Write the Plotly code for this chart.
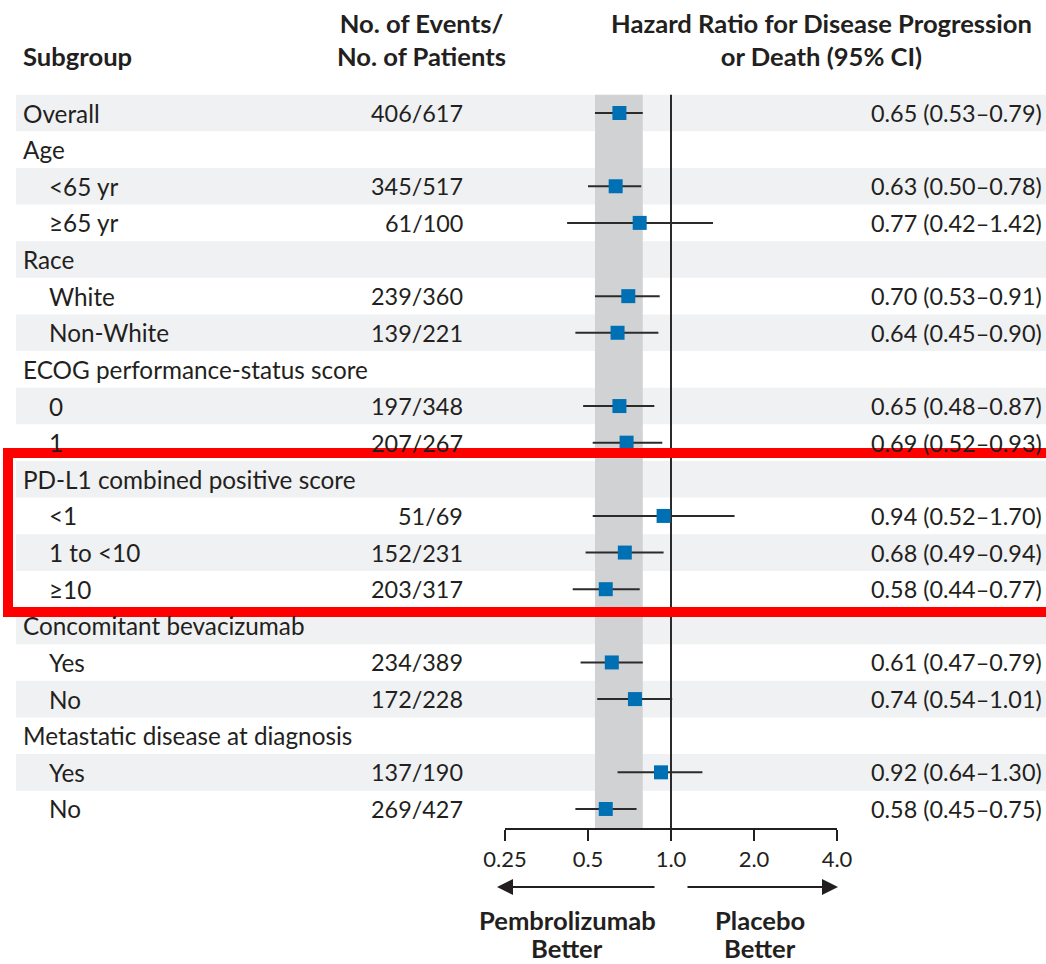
import plotly.graph_objects as go
import math

# ---------------- data ----------------
labels = ["Overall", "Age", "<65 yr", "≥65 yr", "Race", "White", "Non-White",
          "ECOG performance-status score", "0", "1",
          "PD-L1 combined positive score", "<1", "1 to <10", "≥10",
          "Concomitant bevacizumab", "Yes", "No",
          "Metastatic disease at diagnosis", "Yes", "No"]
indent = [0, 0, 1, 1, 0, 1, 1, 0, 1, 1, 0, 1, 1, 1, 0, 1, 1, 0, 1, 1]
events = ["406/617", "", "345/517", "61/100", "", "239/360", "139/221", "",
          "197/348", "207/267", "", "51/69", "152/231", "203/317", "",
          "234/389", "172/228", "", "137/190", "269/427"]
hr = [0.65, None, 0.63, 0.77, None, 0.70, 0.64, None, 0.65, 0.69, None,
      0.94, 0.68, 0.58, None, 0.61, 0.74, None, 0.92, 0.58]
lo = [0.53, None, 0.50, 0.42, None, 0.53, 0.45, None, 0.48, 0.52, None,
      0.52, 0.49, 0.44, None, 0.47, 0.54, None, 0.64, 0.45]
hi = [0.79, None, 0.78, 1.42, None, 0.91, 0.90, None, 0.87, 0.93, None,
      1.70, 0.94, 0.77, None, 0.79, 1.01, None, 1.30, 0.75]
tick_vals = [0.25, 0.5, 1.0, 2.0, 4.0]
tick_text = ["0.25", "0.5", "1.0", "2.0", "4.0"]

# ---------------- layout helpers ----------------
VW, VH = 1046, 964          # browser window
OFF = 0                     # page body margin (removed by post_script)
W, H = VW - OFF, VH - OFF   # figure size
ROW0, ROWH = 113.0, 36.63   # viewport pixel of first row centre, row pitch


def py(p):
    """viewport pixel y -> row coordinate"""
    return (p - ROW0) / ROWH


def px(p):
    """viewport pixel x -> paper fraction"""
    return (p - OFF) / W


FONT = "Lato"
TXT = "#231f20"
AXIS_Y = 829
LABEL = dict(family=FONT, size=24.3, color=TXT)
NUM = dict(family=FONT, size=23.4, color=TXT)
BOLD = dict(family=FONT, size=25.6, color=TXT)

fig = go.Figure()

# overall CI band
ov_lo, ov_hi = lo[0], hi[0]
fig.add_trace(go.Scatter(
    x=[ov_lo, ov_hi, ov_hi, ov_lo, ov_lo],
    y=[-0.5, -0.5, py(AXIS_Y), py(AXIS_Y), -0.5],
    fill="toself", fillcolor="#d1d2d4", mode="lines",
    line=dict(width=0, color="#d1d2d4"), hoverinfo="skip", showlegend=False))

# reference line at 1
fig.add_trace(go.Scatter(x=[1, 1], y=[-0.5, py(AXIS_Y)], mode="lines",
                         line=dict(color="#2b2b2b", width=2),
                         hoverinfo="skip", showlegend=False))

# CI lines
cx, cy = [], []
for i, (a, b) in enumerate(zip(lo, hi)):
    if a is None:
        continue
    cx += [a, b, None]
    cy += [i, i, None]
fig.add_trace(go.Scatter(x=cx, y=cy, mode="lines",
                         line=dict(color="#2b2b2b", width=2),
                         hoverinfo="skip", showlegend=False))

# point estimates
mx = [v for v in hr if v is not None]
my = [i for i, v in enumerate(hr) if v is not None]
fig.add_trace(go.Scatter(x=mx, y=my, mode="markers",
                         marker=dict(symbol="square", size=14, color="#0070b4",
                                     line=dict(width=0)),
                         showlegend=False))

shapes = []
# row shading
for i in range(len(labels)):
    if i % 2 == 0:
        shapes.append(dict(type="rect", xref="paper", yref="y",
                           x0=px(16), x1=px(VW + 4), y0=i - 0.5, y1=i + 0.5,
                           fillcolor="#f0f1f3", line=dict(width=0),
                           layer="below"))
# red highlight box
shapes.append(dict(type="rect", xref="paper", yref="y",
                   x0=px(8), x1=px(VW + 20), y0=py(453), y1=py(612),
                   line=dict(color="#ff0000", width=10),
                   fillcolor="rgba(0,0,0,0)", layer="above"))

ann = []
for i, lab in enumerate(labels):
    ann.append(dict(x=px(21 if indent[i] == 0 else 47), y=i, xref="paper", yref="y",
                    text=lab, showarrow=False, xanchor="left", yanchor="middle",
                    font=LABEL))
    if events[i]:
        ann.append(dict(x=px(465), y=i, xref="paper", yref="y",
                        text=events[i], showarrow=False, xanchor="right",
                        yanchor="middle", font=NUM))
    if hr[i] is not None:
        ann.append(dict(x=px(1044), y=i, xref="paper", yref="y",
                        text=f"{hr[i]:.2f} ({lo[i]:.2f}\u2013{hi[i]:.2f})",
                        showarrow=False, xanchor="right", yanchor="middle",
                        font=NUM))

ann.append(dict(x=px(21), y=py(56), xref="paper", yref="y", text="<b>Subgroup</b>",
                showarrow=False, xanchor="left", yanchor="middle", font=BOLD))
ann.append(dict(x=px(421), y=py(39), xref="paper", yref="y",
                text="<b>No. of Events/</b><br><b>No. of Patients</b>",
                showarrow=False, xanchor="center", yanchor="middle", font=BOLD))
ann.append(dict(x=px(821), y=py(39), xref="paper", yref="y",
                text="<b>Hazard Ratio for Disease Progression</b><br><b>or Death (95% CI)</b>",
                showarrow=False, xanchor="center", yanchor="middle", font=BOLD))
# bottom direction labels (one annotation per line so they stay inside the page)
for cxp, l1 in ((567, "Pembrolizumab"), (760, "Placebo")):
    ann.append(dict(x=px(cxp), y=py(920), xref="paper", yref="y",
                    text=f"<b>{l1}</b>", showarrow=False, xanchor="center",
                    yanchor="middle", font=BOLD))
    ann.append(dict(x=px(cxp), y=py(948), xref="paper", yref="y",
                    text="<b>Better</b>", showarrow=False, xanchor="center",
                    yanchor="middle", font=BOLD))
# arrows
ann.append(dict(x=px(497), y=py(887), xref="paper", yref="y", text="",
                showarrow=True, ax=159, ay=0, arrowhead=2, arrowsize=1.6,
                arrowwidth=2, arrowcolor=TXT))
ann.append(dict(x=px(838), y=py(887), xref="paper", yref="y", text="",
                showarrow=True, ax=-152, ay=0, arrowhead=2, arrowsize=1.6,
                arrowwidth=2, arrowcolor=TXT))

fig.update_layout(
    width=W, height=H,
    margin=dict(l=0, r=0, t=0, b=0, pad=0, autoexpand=False),
    paper_bgcolor="white", plot_bgcolor="rgba(0,0,0,0)",
    shapes=shapes, annotations=ann,
    xaxis=dict(type="log", range=[math.log10(0.25), math.log10(4)],
               domain=[px(505), px(837)], anchor="free",
               position=1 - (AXIS_Y - OFF) / H, automargin=False,
               showline=True, linecolor=TXT, linewidth=2,
               ticks="outside", ticklen=11, tickwidth=2, tickcolor=TXT,
               tickvals=tick_vals, ticktext=tick_text,
               tickfont=dict(family=FONT, size=22, color=TXT),
               showgrid=False, zeroline=False, fixedrange=True),
    yaxis=dict(range=[py(VH), py(OFF)], domain=[0, 1], visible=False,
               automargin=False,
               showgrid=False, zeroline=False, fixedrange=True),
)

fig.write_html(
    "out.html",
    config={"displayModeBar": False},
    post_script="document.body.style.margin='0';document.body.style.overflow='hidden';",
)
